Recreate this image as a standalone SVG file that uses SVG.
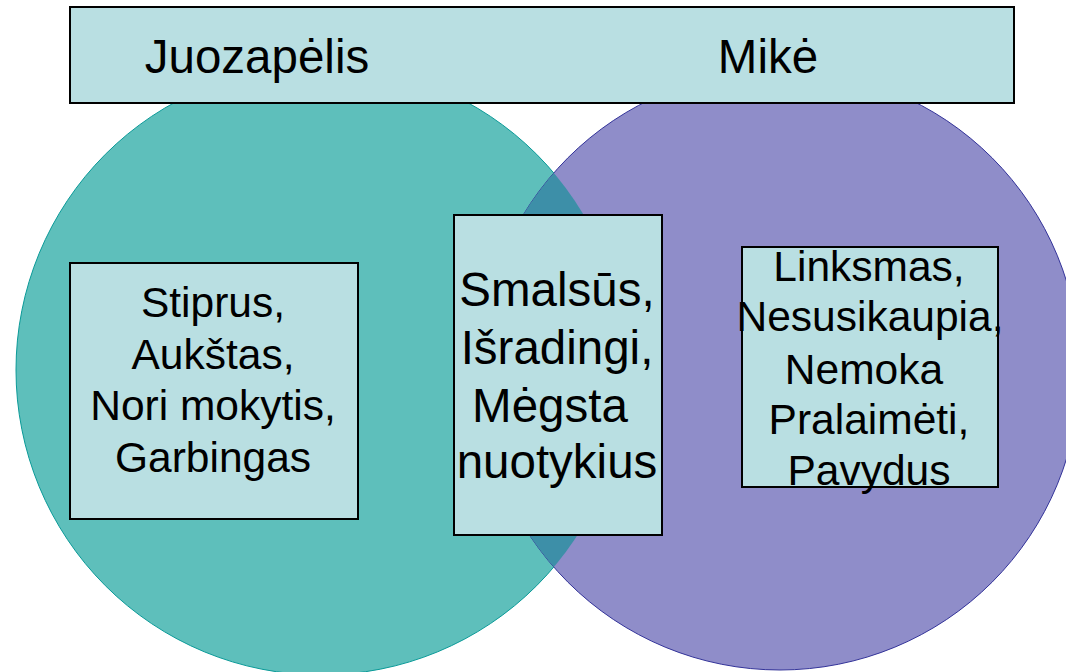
<svg xmlns="http://www.w3.org/2000/svg" width="1066" height="672" viewBox="0 0 1066 672">
<defs>
<style>
.box{fill:#B9DFE2;stroke:#000;stroke-width:2}
.t{font-family:"Liberation Sans",Arial,sans-serif;fill:#000;text-anchor:middle}
</style>
<clipPath id="clipLeft"><circle cx="321" cy="370" r="305"/></clipPath>
</defs>
<rect width="1066" height="672" fill="#fff"/>
<g id="circle-juozapelis">
<circle cx="321" cy="370" r="305" fill="#5EBFBB" stroke="#0A9A98" stroke-width="1"/>
</g>
<g id="circle-mike">
<circle cx="780" cy="370" r="300" fill="#8F8DC9" stroke="#333399" stroke-width="1"/>
</g>
<g id="overlap">
<circle cx="780" cy="370" r="300" fill="#3D8FA8" clip-path="url(#clipLeft)"/>
</g>
<g id="connectors"></g>
<g id="title">
<rect class="box" x="70" y="7" width="944" height="96"/>
<text class="t" x="257" y="73" font-size="47.5">Juozapėlis</text>
<text class="t" x="768" y="73" font-size="47.5">Mikė</text>
</g>
<g id="box-left">
<rect class="box" x="70" y="263" width="288" height="256"/>
<text class="t" font-size="42.5"><tspan x="213" y="317">Stiprus,</tspan><tspan x="213" y="369">Aukštas,</tspan><tspan x="213" y="420">Nori mokytis,</tspan><tspan x="213" y="472">Garbingas</tspan></text>
</g>
<g id="box-middle">
<rect class="box" x="454" y="215" width="208" height="320"/>
<text class="t" font-size="47.5"><tspan x="557" y="306">Smalsūs,</tspan><tspan x="557" y="364">Išradingi,</tspan><tspan x="550" y="422">Mėgsta</tspan><tspan x="557" y="478">nuotykius</tspan></text>
</g>
<g id="box-right">
<rect class="box" x="742" y="247" width="256" height="240"/>
<text class="t" font-size="42.5"><tspan x="869" y="281">Linksmas,</tspan><tspan x="870" y="331">Nesusikaupia,</tspan><tspan x="864" y="384">Nemoka</tspan><tspan x="869" y="434">Pralaimėti,</tspan><tspan x="869" y="485">Pavydus</tspan></text>
</g>
</svg>
